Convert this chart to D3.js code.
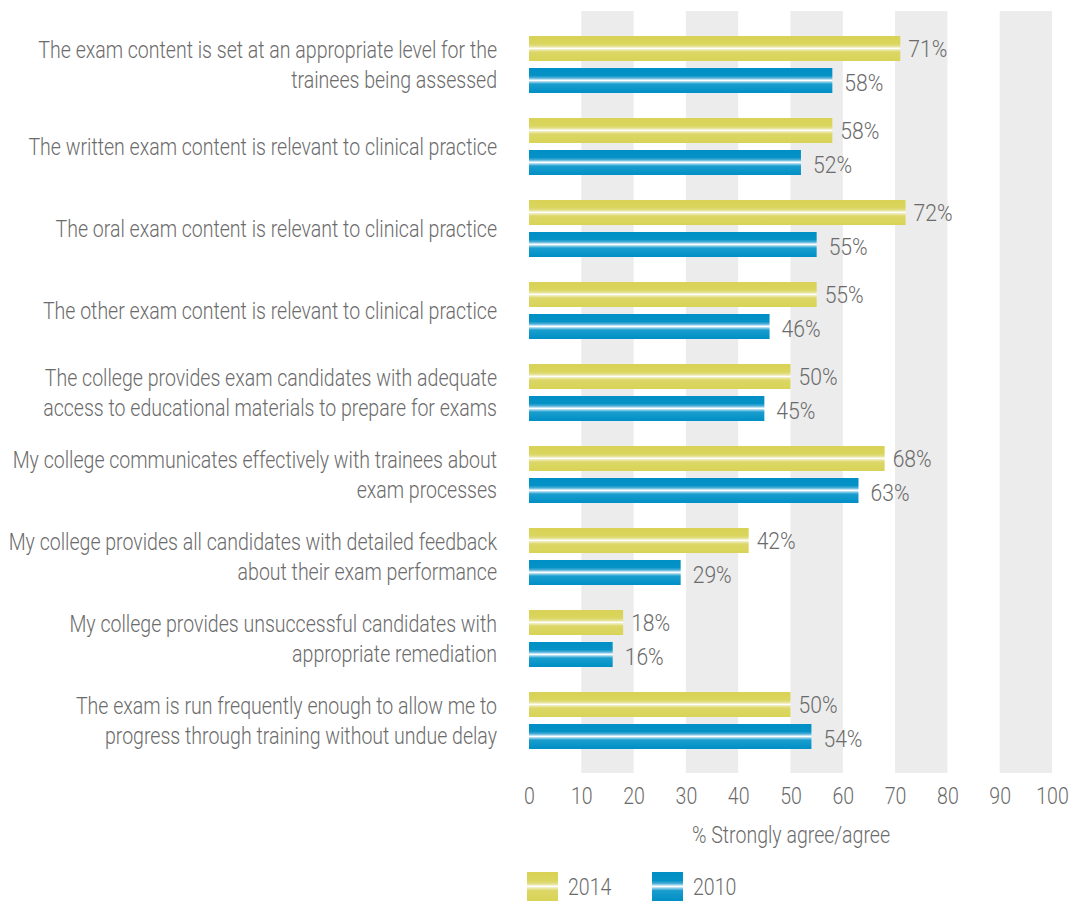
<!DOCTYPE html>
<html>
<head>
<meta charset="utf-8">
<script src="https://cdn.jsdelivr.net/npm/d3@7"></script>
<style>
  body { margin: 0; background: #fff; }
  svg text { font-family: "Roboto", sans-serif; font-weight: 300; fill: #6b6b6b; }
</style>
</head>
<body>
<div id="chart"></div>
<script>
var categories = [
  ["The exam content is set at an appropriate level for the", "trainees being assessed"],
  ["The written exam content is relevant to clinical practice"],
  ["The oral exam content is relevant to clinical practice"],
  ["The other exam content is relevant to clinical practice"],
  ["The college provides exam candidates with adequate", "access to educational materials to prepare for exams"],
  ["My college communicates effectively with trainees about", "exam processes"],
  ["My college provides all candidates with detailed feedback", "about their exam performance"],
  ["My college provides unsuccessful candidates with", "appropriate remediation"],
  ["The exam is run frequently enough to allow me to", "progress through training without undue delay"]
];
var values2014 = [71, 58, 72, 55, 50, 68, 42, 18, 50];
var values2010 = [58, 52, 55, 46, 45, 63, 29, 16, 54];
var seriesNames = ["2014", "2010"];
var xTicks = [0, 10, 20, 30, 40, 50, 60, 70, 80, 90, 100];
var axisTitle = "% Strongly agree/agree";

(function(){
    var width = 1072, height = 901;
    var fs = 23, squeeze = 0.85; // condensed look
    var svg = d3.select("#chart").append("svg")
        .attr("width", width)
        .attr("height", height);

    function place(x, y, k) {
        return "translate(" + x + "," + y + ") scale(" + (k || squeeze) + ",1)";
    }

    var x = d3.scaleLinear().domain([0, 100]).range([529, 1052]);
    var ids = d3.range(categories.length);
    var y = d3.scaleBand().domain(ids).range([36, 749])
        .paddingInner(25 / 82).paddingOuter(0);
    var barH = 25, barGap = 7;

    var defs = svg.append("defs");
    function gloss(id, stops) {
        var g = defs.append("linearGradient").attr("id", id)
            .attr("x1", 0).attr("y1", 0).attr("x2", 0).attr("y2", 1);
        stops.forEach(function(s) {
            g.append("stop").attr("offset", s[0]).attr("stop-color", s[1]);
        });
    }
    gloss("g2014", [[0, "#d8d356"], [0.3, "#dad55c"], [0.4, "#e2de85"], [0.47, "#f6f4d8"],
                    [0.5, "#ffffff"], [0.54, "#efecbd"], [0.64, "#dcd766"], [1, "#d8d356"]]);
    gloss("g2010", [[0, "#008fc5"], [0.3, "#0592c6"], [0.4, "#4fb0d9"], [0.46, "#bfe3f3"],
                    [0.5, "#ffffff"], [0.55, "#9dd4ed"], [0.64, "#1a9dce"], [1, "#008fc5"]]);

    // gray bands behind every other decade
    var bandTop = 11, bandBottom = 773;
    svg.append("g").selectAll("rect")
        .data([10, 30, 50, 70, 90])
        .enter().append("rect")
        .attr("x", function(d) { return x(d); })
        .attr("y", bandTop)
        .attr("width", function(d) { return x(d + 10) - x(d); })
        .attr("height", bandBottom - bandTop)
        .attr("fill", "#ececec");

    var rows = ids.map(function(i) {
        return { i: i, cat: categories[i], v14: values2014[i], v10: values2010[i] };
    });

    var g = svg.append("g").selectAll("g").data(rows).enter().append("g")
        .attr("transform", function(d) { return "translate(0," + y(d.i) + ")"; });

    g.append("rect")
        .attr("x", x(0)).attr("y", 0)
        .attr("width", function(d) { return x(d.v14) - x(0); })
        .attr("height", barH)
        .attr("fill", "url(#g2014)");
    g.append("rect")
        .attr("x", x(0)).attr("y", barH + barGap)
        .attr("width", function(d) { return x(d.v10) - x(0); })
        .attr("height", barH)
        .attr("fill", "url(#g2010)");

    // value labels run a touch bigger than the rest
    g.append("text")
        .attr("transform", function(d) { return place(x(d.v14) + 8, barH / 2, 0.88); })
        .attr("dy", "0.36em")
        .attr("font-size", 24)
        .text(function(d) { return d.v14 + "%"; });
    g.append("text")
        .attr("transform", function(d) { return place(x(d.v10) + 12, barH + barGap + barH / 2 + 2, 0.88); })
        .attr("dy", "0.36em")
        .attr("font-size", 24)
        .text(function(d) { return d.v10 + "%"; });

    var mid = y.bandwidth() / 2;
    g.append("text")
        .attr("text-anchor", "end")
        .attr("font-size", fs)
        .attr("transform", place(497, 0))
        .each(function(d) {
            var t = d3.select(this);
            var n = d.cat.length;
            d.cat.forEach(function(line, k) {
                t.append("tspan")
                    .attr("x", 0)
                    .attr("y", mid + (k - (n - 1) / 2) * 30)
                    .attr("dy", "0.36em")
                    .text(line);
            });
        });

    var axis = d3.axisBottom(x).tickValues(xTicks).tickSize(0).tickPadding(0);
    var ax = svg.append("g").attr("transform", "translate(0,788)").call(axis);
    ax.select(".domain").remove();
    ax.selectAll("text")
        .attr("font-size", fs)
        .attr("dy", "0.71em")
        .attr("transform", "scale(" + squeeze + ",1)")
        .style("font-family", null);

    svg.append("text")
        .attr("transform", place(791, 835))
        .attr("dy", "0.36em")
        .attr("text-anchor", "middle")
        .attr("font-size", fs)
        .text(axisTitle);

    var legend = svg.append("g").selectAll("g").data(seriesNames).enter().append("g")
        .attr("transform", function(d, k) { return "translate(" + (527 + k * 125) + ",872)"; });
    legend.append("rect")
        .attr("width", 31).attr("height", 29)
        .attr("fill", function(d) { return "url(#g" + d + ")"; });
    legend.append("text")
        .attr("transform", place(41, 15))
        .attr("dy", "0.36em")
        .attr("font-size", fs)
        .text(function(d) { return d; });
})();
</script>
</body>
</html>
